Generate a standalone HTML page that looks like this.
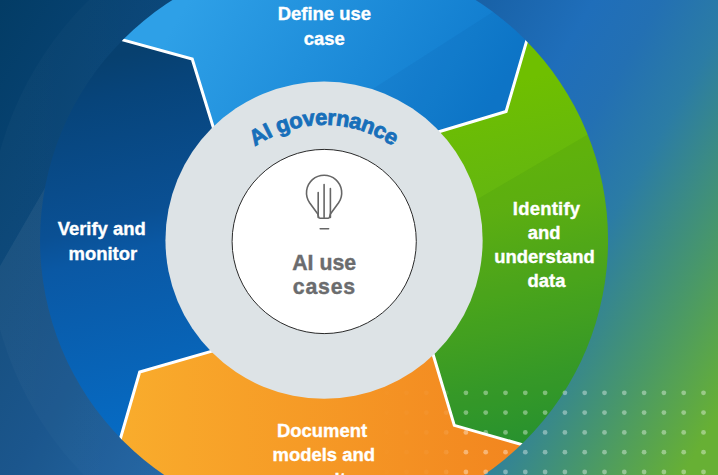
<!DOCTYPE html>
<html><head><meta charset="utf-8"><title>AI governance</title>
<style>
html,body{margin:0;padding:0;background:#0d4a86;}
body{width:718px;height:475px;overflow:hidden;position:relative;font-family:"Liberation Sans",sans-serif;}
svg{position:absolute;left:0;top:0;display:block}
text{font-family:"Liberation Sans",sans-serif;font-weight:bold;}
.w{fill:#fff;stroke:#fff;stroke-width:0.35px;font-size:18.45px;text-anchor:middle}
.g{fill:#6b6c6e;stroke:#6b6c6e;stroke-width:0.4px;font-size:21.3px;text-anchor:middle}
</style></head><body>
<svg width="718" height="475" viewBox="0 0 718 475">
<defs>
<linearGradient id="bg" gradientUnits="userSpaceOnUse" x1="0" y1="0" x2="718" y2="415">
<stop offset="0" stop-color="#033c65"/>
<stop offset="0.30" stop-color="#0d4c86"/>
<stop offset="0.62" stop-color="#1f6eba"/>
<stop offset="0.69" stop-color="#2370b3"/>
<stop offset="0.77" stop-color="#2b7ca5"/>
<stop offset="0.89" stop-color="#48976a"/>
<stop offset="1.0" stop-color="#67b034"/>
</linearGradient>
<linearGradient id="gDefine" gradientUnits="userSpaceOnUse" x1="200" y1="-20" x2="470" y2="140">
<stop offset="0" stop-color="#2ea0e7"/><stop offset="1" stop-color="#0e79cc"/>
</linearGradient>
<linearGradient id="gIdent" gradientUnits="userSpaceOnUse" x1="470" y1="90" x2="545" y2="440">
<stop offset="0" stop-color="#6fbf00"/><stop offset="0.35" stop-color="#62b512"/><stop offset="1" stop-color="#2a9632"/>
</linearGradient>
<linearGradient id="gDoc" gradientUnits="userSpaceOnUse" x1="124" y1="440" x2="524" y2="440">
<stop offset="0" stop-color="#f9ac2c"/><stop offset="1" stop-color="#f2851f"/>
</linearGradient>
<linearGradient id="gVer" gradientUnits="userSpaceOnUse" x1="100" y1="60" x2="190" y2="420">
<stop offset="0" stop-color="#07406f"/><stop offset="0.1" stop-color="#07447a"/><stop offset="0.43" stop-color="#0a5094"/><stop offset="0.52" stop-color="#0a58a4"/><stop offset="0.8" stop-color="#0863b6"/><stop offset="1" stop-color="#066bc4"/>
</linearGradient>
<linearGradient id="halo" gradientUnits="userSpaceOnUse" x1="0" y1="0" x2="300" y2="0">
<stop offset="0" stop-color="#fff" stop-opacity="0.022"/><stop offset="1" stop-color="#fff" stop-opacity="0"/>
</linearGradient>
<linearGradient id="dotfade" gradientUnits="userSpaceOnUse" x1="370" y1="0" x2="470" y2="0">
<stop offset="0" stop-color="#fff" stop-opacity="0"/><stop offset="0.55" stop-color="#fff" stop-opacity="0.10"/><stop offset="0.76" stop-color="#fff" stop-opacity="0.22"/><stop offset="0.96" stop-color="#fff" stop-opacity="1"/>
</linearGradient>
<mask id="dm"><rect x="340" y="380" width="378" height="95" fill="url(#dotfade)"/></mask>
<clipPath id="cDef"><path d="M215.5 134.5 L192.2 59.1 L111.8 36.9 L135.3 -30.5 L192.3 -62.4 L254.4 -82.4 L319.2 -89.8 L384.2 -84.3 L446.9 -66.1 L504.8 -35.9 L529.4 31.7 L506.1 111.5 L433.1 133.5 L324.05 240.2 Z"/></clipPath>
<clipPath id="cIde"><path d="M433.1 133.5 L506.1 111.5 L529.4 31.7 L597.1 54.9 L628.1 111.8 L647.3 173.8 L654.0 238.2 L648.1 302.8 L629.6 365.0 L599.3 422.3 L533.4 447.9 L454.3 425.4 L431.1 347.7 L324.05 240.2 Z"/></clipPath>
<clipPath id="ring"><circle cx="324.05" cy="240.2" r="284.0"/></clipPath>
<path id="arc" d="M 247.07 336.8 A 120 120 0 1 1 401.33 336.8"/>
</defs>
<rect width="718" height="475" fill="url(#bg)"/>
<circle cx="324.05" cy="240.2" r="336" fill="url(#halo)"/>
<path d="M60 161.8 L-10 283.4 L-10 485 L200 485 L200 162 Z" fill="#fff" fill-opacity="0.06"/>
<g clip-path="url(#ring)">
<path d="M215.5 134.5 L192.2 59.1 L111.8 36.9 L135.3 -30.5 L192.3 -62.4 L254.4 -82.4 L319.2 -89.8 L384.2 -84.3 L446.9 -66.1 L504.8 -35.9 L529.4 31.7 L506.1 111.5 L433.1 133.5 L324.05 240.2 Z" fill="url(#gDefine)"/>
<path d="M433.1 133.5 L506.1 111.5 L529.4 31.7 L597.1 54.9 L628.1 111.8 L647.3 173.8 L654.0 238.2 L648.1 302.8 L629.6 365.0 L599.3 422.3 L533.4 447.9 L454.3 425.4 L431.1 347.7 L324.05 240.2 Z" fill="url(#gIdent)"/>
<path d="M431.1 347.7 L454.3 425.4 L533.4 447.9 L508.5 513.8 L451.6 544.5 L389.8 563.6 L325.5 570.2 L261.1 564.1 L199.2 545.7 L142.0 515.4 L117.4 448.8 L139.7 372.0 L218.1 349.4 L324.05 240.2 Z" fill="url(#gDoc)"/>
<path d="M218.1 349.4 L139.7 372.0 L117.4 448.8 L50.9 425.4 L20.3 369.2 L1.1 308.1 L-5.9 244.5 L-0.6 180.7 L17.0 119.2 L46.2 62.2 L111.8 36.9 L192.2 59.1 L215.5 134.5 L324.05 240.2 Z" fill="url(#gVer)"/>
<path clip-path="url(#cDef)" d="M608.1 -61.8 L263.4 159 L263 300 L700 300 L700 -62 Z" fill="#003a80" fill-opacity="0.07"/>
<path clip-path="url(#cIde)" d="M727.4 52.6 L300 303.2 L300 500 L730 500 Z" fill="#0a5a10" fill-opacity="0.07"/>
<g fill="none" stroke="#fff" stroke-width="3" stroke-linejoin="miter">
<path d="M111.8 36.9 L192.2 59.1 L215.5 134.5"/><path d="M529.4 31.7 L506.1 111.5 L433.1 133.5"/><path d="M533.4 447.9 L454.3 425.4 L431.1 347.7"/><path d="M117.4 448.8 L139.7 372.0 L218.1 349.4"/>
</g>
</g>
<circle cx="324.05" cy="240.2" r="158.6" fill="#dde3e6"/>
<circle cx="324.2" cy="241.5" r="92.1" fill="#fff" stroke="#2a2a2a" stroke-width="1"/>
<g fill="#fff" fill-opacity="0.38" mask="url(#dm)">
<circle cx="347.1" cy="392.8" r="2.4"/><circle cx="366.9" cy="392.8" r="2.4"/><circle cx="386.7" cy="392.8" r="2.4"/><circle cx="406.5" cy="392.8" r="2.4"/><circle cx="426.3" cy="392.8" r="2.4"/><circle cx="446.1" cy="392.8" r="2.4"/><circle cx="465.9" cy="392.8" r="2.4"/><circle cx="485.7" cy="392.8" r="2.4"/><circle cx="505.5" cy="392.8" r="2.4"/><circle cx="525.3" cy="392.8" r="2.4"/><circle cx="545.1" cy="392.8" r="2.4"/><circle cx="564.9" cy="392.8" r="2.4"/><circle cx="584.7" cy="392.8" r="2.4"/><circle cx="604.5" cy="392.8" r="2.4"/><circle cx="624.3" cy="392.8" r="2.4"/><circle cx="644.1" cy="392.8" r="2.4"/><circle cx="663.9" cy="392.8" r="2.4"/><circle cx="683.7" cy="392.8" r="2.4"/><circle cx="703.5" cy="392.8" r="2.4"/><circle cx="723.3" cy="392.8" r="2.4"/><circle cx="347.1" cy="412.6" r="2.4"/><circle cx="366.9" cy="412.6" r="2.4"/><circle cx="386.7" cy="412.6" r="2.4"/><circle cx="406.5" cy="412.6" r="2.4"/><circle cx="426.3" cy="412.6" r="2.4"/><circle cx="446.1" cy="412.6" r="2.4"/><circle cx="465.9" cy="412.6" r="2.4"/><circle cx="485.7" cy="412.6" r="2.4"/><circle cx="505.5" cy="412.6" r="2.4"/><circle cx="525.3" cy="412.6" r="2.4"/><circle cx="545.1" cy="412.6" r="2.4"/><circle cx="564.9" cy="412.6" r="2.4"/><circle cx="584.7" cy="412.6" r="2.4"/><circle cx="604.5" cy="412.6" r="2.4"/><circle cx="624.3" cy="412.6" r="2.4"/><circle cx="644.1" cy="412.6" r="2.4"/><circle cx="663.9" cy="412.6" r="2.4"/><circle cx="683.7" cy="412.6" r="2.4"/><circle cx="703.5" cy="412.6" r="2.4"/><circle cx="723.3" cy="412.6" r="2.4"/><circle cx="347.1" cy="432.4" r="2.4"/><circle cx="366.9" cy="432.4" r="2.4"/><circle cx="386.7" cy="432.4" r="2.4"/><circle cx="406.5" cy="432.4" r="2.4"/><circle cx="426.3" cy="432.4" r="2.4"/><circle cx="446.1" cy="432.4" r="2.4"/><circle cx="465.9" cy="432.4" r="2.4"/><circle cx="485.7" cy="432.4" r="2.4"/><circle cx="505.5" cy="432.4" r="2.4"/><circle cx="525.3" cy="432.4" r="2.4"/><circle cx="545.1" cy="432.4" r="2.4"/><circle cx="564.9" cy="432.4" r="2.4"/><circle cx="584.7" cy="432.4" r="2.4"/><circle cx="604.5" cy="432.4" r="2.4"/><circle cx="624.3" cy="432.4" r="2.4"/><circle cx="644.1" cy="432.4" r="2.4"/><circle cx="663.9" cy="432.4" r="2.4"/><circle cx="683.7" cy="432.4" r="2.4"/><circle cx="703.5" cy="432.4" r="2.4"/><circle cx="723.3" cy="432.4" r="2.4"/><circle cx="347.1" cy="452.2" r="2.4"/><circle cx="366.9" cy="452.2" r="2.4"/><circle cx="386.7" cy="452.2" r="2.4"/><circle cx="406.5" cy="452.2" r="2.4"/><circle cx="426.3" cy="452.2" r="2.4"/><circle cx="446.1" cy="452.2" r="2.4"/><circle cx="465.9" cy="452.2" r="2.4"/><circle cx="485.7" cy="452.2" r="2.4"/><circle cx="505.5" cy="452.2" r="2.4"/><circle cx="525.3" cy="452.2" r="2.4"/><circle cx="545.1" cy="452.2" r="2.4"/><circle cx="564.9" cy="452.2" r="2.4"/><circle cx="584.7" cy="452.2" r="2.4"/><circle cx="604.5" cy="452.2" r="2.4"/><circle cx="624.3" cy="452.2" r="2.4"/><circle cx="644.1" cy="452.2" r="2.4"/><circle cx="663.9" cy="452.2" r="2.4"/><circle cx="683.7" cy="452.2" r="2.4"/><circle cx="703.5" cy="452.2" r="2.4"/><circle cx="723.3" cy="452.2" r="2.4"/><circle cx="347.1" cy="472.0" r="2.4"/><circle cx="366.9" cy="472.0" r="2.4"/><circle cx="386.7" cy="472.0" r="2.4"/><circle cx="406.5" cy="472.0" r="2.4"/><circle cx="426.3" cy="472.0" r="2.4"/><circle cx="446.1" cy="472.0" r="2.4"/><circle cx="465.9" cy="472.0" r="2.4"/><circle cx="485.7" cy="472.0" r="2.4"/><circle cx="505.5" cy="472.0" r="2.4"/><circle cx="525.3" cy="472.0" r="2.4"/><circle cx="545.1" cy="472.0" r="2.4"/><circle cx="564.9" cy="472.0" r="2.4"/><circle cx="584.7" cy="472.0" r="2.4"/><circle cx="604.5" cy="472.0" r="2.4"/><circle cx="624.3" cy="472.0" r="2.4"/><circle cx="644.1" cy="472.0" r="2.4"/><circle cx="663.9" cy="472.0" r="2.4"/><circle cx="683.7" cy="472.0" r="2.4"/><circle cx="703.5" cy="472.0" r="2.4"/><circle cx="723.3" cy="472.0" r="2.4"/><circle cx="347.1" cy="491.8" r="2.4"/><circle cx="366.9" cy="491.8" r="2.4"/><circle cx="386.7" cy="491.8" r="2.4"/><circle cx="406.5" cy="491.8" r="2.4"/><circle cx="426.3" cy="491.8" r="2.4"/><circle cx="446.1" cy="491.8" r="2.4"/><circle cx="465.9" cy="491.8" r="2.4"/><circle cx="485.7" cy="491.8" r="2.4"/><circle cx="505.5" cy="491.8" r="2.4"/><circle cx="525.3" cy="491.8" r="2.4"/><circle cx="545.1" cy="491.8" r="2.4"/><circle cx="564.9" cy="491.8" r="2.4"/><circle cx="584.7" cy="491.8" r="2.4"/><circle cx="604.5" cy="491.8" r="2.4"/><circle cx="624.3" cy="491.8" r="2.4"/><circle cx="644.1" cy="491.8" r="2.4"/><circle cx="663.9" cy="491.8" r="2.4"/><circle cx="683.7" cy="491.8" r="2.4"/><circle cx="703.5" cy="491.8" r="2.4"/><circle cx="723.3" cy="491.8" r="2.4"/>
</g>
<!-- bulb -->
<g fill="none" stroke="#666" stroke-width="1.6" stroke-linecap="round" stroke-linejoin="round">
<path d="M317.8 213.9 L309.6 202.8 A17.6 17.6 0 1 1 338.6 202.8 L330.4 213.9 L329.6 217 Q329.3 218.2 328.2 218.2 L320 218.2 Q318.9 218.2 318.6 217 Z"/>
<path d="M318.2 192.5 V217.4 M324.1 184.6 V217.4 M330.4 188.5 V217.4"/>
<path d="M320.2 228.7 H328.6"/>
</g>
<text class="w" x="324.3" y="20.2">Define use</text>
<text class="w" x="324.3" y="44.9">case</text>
<text class="w" x="101.7" y="235.4">Verify and</text>
<text class="w" x="102.8" y="260.0">monitor</text>
<text class="w" x="546.6" y="214.5" letter-spacing="0.25">Identify</text>
<text class="w" x="544.2" y="239.2">and</text>
<text class="w" x="544.5" y="263.3">understand</text>
<text class="w" x="546.5" y="287.1">data</text>
<text class="w" x="322" y="436.5">Document</text>
<text class="w" x="323.8" y="461.1">models and</text>
<text class="w" x="325.8" y="485.7">results</text>
<text class="g" x="324.2" y="269.8">AI use</text>
<text class="g" x="324.4" y="294" letter-spacing="0.8">cases</text>
<text font-size="22" fill="#176fba" stroke="#176fba" stroke-width="0.8" text-anchor="middle" letter-spacing="-0.45"><textPath href="#arc" startOffset="49.9%">AI governance</textPath></text>
</svg>
</body></html>
